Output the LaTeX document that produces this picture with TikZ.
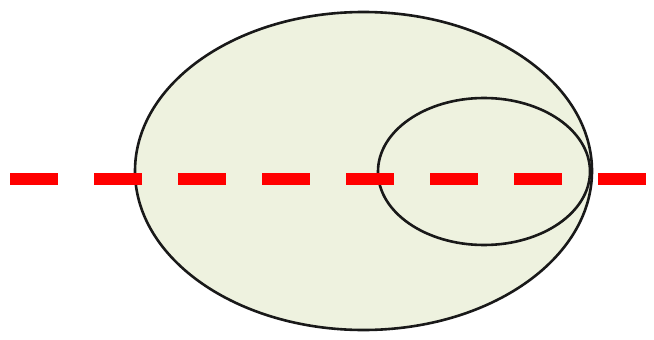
\documentclass[tikz,border=0pt]{standalone}
\usepackage{xcolor}
\usepackage{tikz}
\definecolor{cellfill}{HTML}{EEF2DF}
\definecolor{cutred}{HTML}{FF0000}
\tikzset{
  cell outline/.style={
    draw=black!90,
    line width=2.6pt,
    fill=cellfill,
  },
  cut line/.style={
    draw=cutred,
    line width=12pt,
    dash pattern=on 48pt off 36pt,
  },
}

\begin{document}
\begin{tikzpicture}[x=1pt,y=-1pt]
  \useasboundingbox (0,0) rectangle (654,340);
  \draw[cell outline] (363.5,171) ellipse [x radius=228.5, y radius=159];
  \draw[cell outline] (484,171.5) ellipse [x radius=106, y radius=73.5];

  \coordinate (cut start) at (10,179);
  \coordinate (cut end) at (647,179);
  \draw[cut line] (cut start) -- (cut end);
\end{tikzpicture}
\end{document}
